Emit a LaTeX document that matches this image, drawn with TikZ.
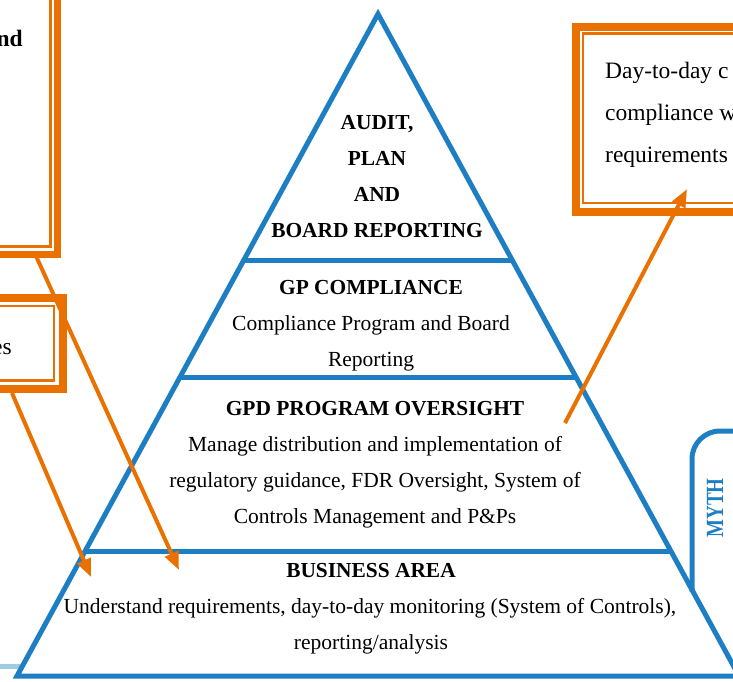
\documentclass[tikz,border=0pt]{standalone}
\usepackage{fontspec}
\setmainfont{Liberation Serif}
\usetikzlibrary{arrows.meta}
\definecolor{pblue}{RGB}{30,126,196}
\definecolor{porange}{RGB}{234,113,0}
\definecolor{plight}{RGB}{160,204,226}
\tikzset{
  edge/.style={draw=pblue, line width=5pt, line join=miter},
  thickb/.style={draw=porange, line width=8pt},
  thinb/.style={draw=porange, line width=2.5pt},
  arr/.style={draw=porange, line width=4pt, -{Triangle[length=18pt,width=14pt]}},
  body/.style={inner sep=0pt, anchor=base, font=\fontsize{21.5}{36}\selectfont},
  head/.style={inner sep=0pt, anchor=base, font=\fontsize{21.4}{36}\selectfont\bfseries},
  side/.style={inner sep=0pt, font=\fontsize{23.5}{40}\selectfont}
}
\begin{document}
\begin{tikzpicture}[x=1pt,y=-1pt]
\useasboundingbox (0,0) rectangle (733,681);
% light line bottom left
\draw[plight, line width=5pt] (-5,666) -- (22,666);
% MYTH tab
\draw[edge, rounded corners=28pt] (692,592) -- (692,431) -- (760,431);
\node[rotate=90, text=pblue, inner sep=0pt, font=\fontsize{19}{19}\selectfont\bfseries] (myth) at (715,508) {\scalebox{1}[1.3]{MYTH}};
% pyramid
\coordinate (apex) at (378,14);
\coordinate (bl) at (17,676);
\coordinate (br) at (739,676);
\draw[edge] (apex) -- (bl) -- (br) -- cycle;
\draw[edge] (244,260) -- (512,260);
\draw[edge] (180,377) -- (576,377);
\draw[edge] (85,551) -- (671,551);
% pyramid texts
\node[head] (a1) at (377,129) {AUDIT,};
\node[head] (a2) at (377,165) {PLAN};
\node[head] (a3) at (377,201) {AND};
\node[head] (a4) at (377,237) {BOARD REPORTING};
\node[head] (g1) at (371,294) {GP COMPLIANCE};
\node[body] (g2) at (371,330) {Compliance Program and Board};
\node[body] (g3) at (371,366) {Reporting};
\node[head] (o1) at (375,415) {GPD PROGRAM OVERSIGHT};
\node[body] (o2) at (375,451) {Manage distribution and implementation of};
\node[body] (o3) at (375,487) {regulatory guidance, FDR Oversight, System of};
\node[body] (o4) at (375,523) {Controls Management and P\&Ps};
\node[head] (b1) at (371,577) {BUSINESS AREA};
\node[body] (b2) at (370,613) {Understand requirements, day-to-day monitoring (System of Controls),};
\node[body] (b3) at (371,649) {reporting/analysis};
% top-left box
\draw[thickb, line width=7pt] (-20,-20) -- (57.5,-20) -- (57.5,254.5) -- (-20,254.5);
\draw[thinb, line width=3pt] (-20,-20) -- (50,-20) -- (50,246.5) -- (-20,246.5);
\node[side, anchor=base east, font=\fontsize{23.5}{40}\selectfont\bfseries] (tl) at (23,46) {nd};
% middle-left box
\draw[thickb] (-20,298) -- (63,298) -- (63,389) -- (-20,389);
\draw[thinb] (-20,306) -- (54,306) -- (54,380.5) -- (-20,380.5);
\node[side, anchor=base east] (ml) at (12,354) {es};
% right box
\draw[thickb] (760,27) -- (576,27) -- (576,212) -- (760,212);
\draw[thinb] (760,33.5) -- (583,33.5) -- (583,203) -- (760,203);
\node[side, anchor=base west] (r1) at (605,78) {Day-to-day c};
\node[side, anchor=base west] (r2) at (605,120) {compliance w};
\node[side, anchor=base west] (r3) at (605,162) {requirements};
% arrows
\coordinate (s1) at (36,256);
\coordinate (e1) at (179,570);
\coordinate (s2) at (12,393);
\coordinate (e2) at (91,577);
\coordinate (s3) at (565,423);
\coordinate (e3) at (687,189);
\draw[arr] (s1) -- (e1);
\draw[arr] (s2) -- (e2);
\draw[arr] (s3) -- (e3);
\end{tikzpicture}
\end{document}
